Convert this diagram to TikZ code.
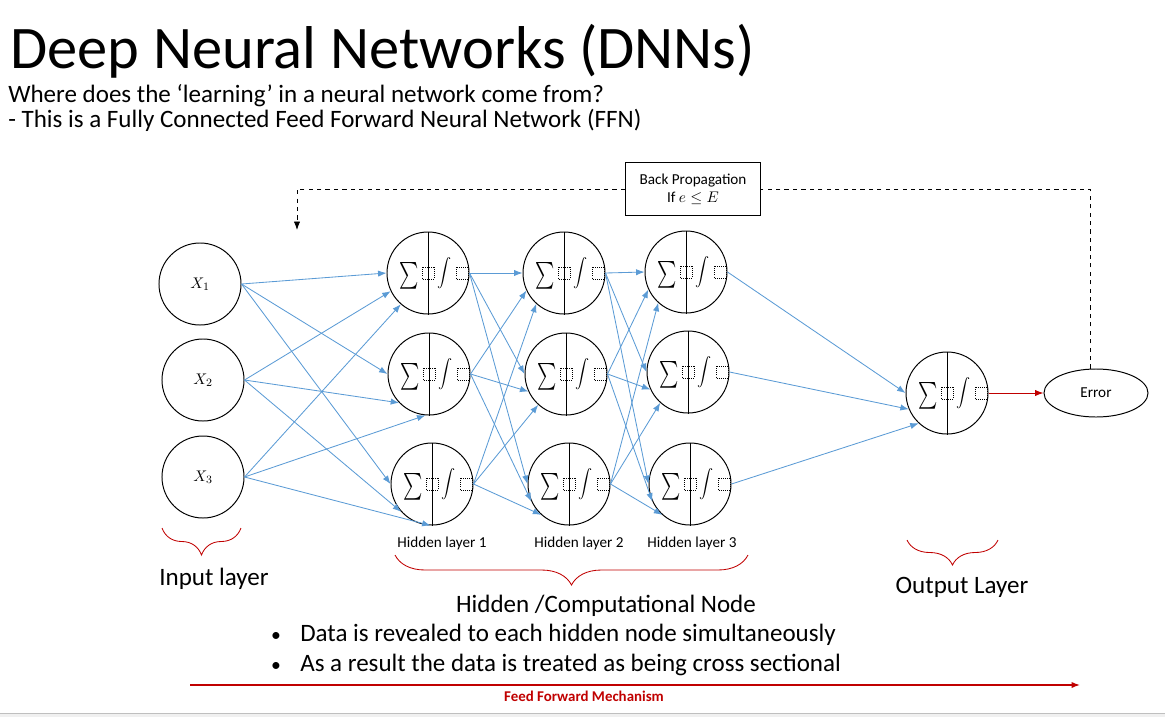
\documentclass[tikz,border=0pt]{standalone}
\usepackage{fontspec}
\setmainfont{Carlito}
\usetikzlibrary{calc,positioning,shapes.geometric,arrows.meta,decorations.pathreplacing}

\definecolor{linkblue}{RGB}{91,155,213}
\definecolor{darkred}{RGB}{192,0,0}

\tikzset{
  neuron/.style={circle,draw,line width=0.7pt,minimum size=2.05cm,inner sep=0pt,font=\fontsize{11}{13}\selectfont},
  sym/.style={inner sep=0pt,font=\fontsize{12}{14}\selectfont},
  holder/.style={densely dotted,line width=0.5pt},
  link/.style={->,color=linkblue,line width=0.6pt},
  small/.style={font=\fontsize{10.8}{13}\selectfont},
  big/.style={font=\fontsize{17.8}{21}\selectfont},
  redbrace/.style={decorate,decoration={brace,mirror,amplitude=#1},color=darkred,line width=0.6pt},
}

% hidden node: sum | integral
\newcommand{\hnode}[2]{%
  \node[neuron] (#1) at (#2) {};
  \draw[line width=0.7pt] (#1.north) -- (#1.south);
  \node[sym] at ($(#1)+(-19,3)$) {\scalebox{1.3}[1.9]{$\textstyle\sum$}};
  \node[sym] at ($(#1)+(17,0)$) {$\displaystyle\int$};
  \draw[holder] ($(#1)+(-6,-6)$) rectangle +(12,12);
  \draw[holder] ($(#1)+(28,-6)$) rectangle +(12,12);
}

\begin{document}
\begin{tikzpicture}[x=0.025cm,y=-0.025cm,>={Latex[length=6pt,width=4.5pt]}]
    \useasboundingbox (0,0) rectangle (1165,717);

    % titles
    \node[anchor=base west,inner sep=0pt,font=\fontsize{43}{46}\selectfont] (title) at (10,68) {Deep Neural Networks (DNNs)};
    \node[anchor=base west,inner sep=0pt,big] (ques) at (8,102) {Where does the ‘learning’ in a neural network come from?};
    \node[anchor=base west,inner sep=0pt,big] (ffn) at (8,127) {- This is a Fully Connected Feed Forward Neural Network (FFN)};

    % input layer
    \node[neuron] (x1) at (200,284) {$X_1$};
    \node[neuron] (x2) at (203,380) {$X_2$};
    \node[neuron] (x3) at (203,477) {$X_3$};

    % hidden layers
    \hnode{ha1}{428,273}
    \hnode{ha2}{429,374}
    \hnode{ha3}{432,484}
    \hnode{hb1}{564,273}
    \hnode{hb2}{566,374}
    \hnode{hb3}{569,484}
    \hnode{hc1}{686,272}
    \hnode{hc2}{688,372}
    \hnode{hc3}{690,484}

    % output and error
    \hnode{out}{947,393}
    \node[draw,ellipse,line width=0.7pt,minimum width=2.6cm,minimum height=1.2cm,small] (err) at (1096,393) {Error};
    \node[draw,line width=0.7pt,minimum width=3.375cm,minimum height=1.325cm,align=center,small] (bp) at (693,189) {Back Propagation\\If \(e \le E\)};

    % links
    \foreach \s/\t/\a in {1/1/180,1/2/180,1/3/180,2/1/206,2/2/224,2/3/222,3/1/229,3/2/265,3/3/268}
        \draw[link] (x\s.east) -- (ha\t.\a);
    \foreach \s/\a in {1/180,2/205,3/228}
        \foreach \t in {1,2,3} {
            \draw[link] (ha\s.east) -- (hb\t.\a);
            \draw[link] (hb\s.east) -- (hc\t.\a);
        }
    \foreach \s/\a in {1/180,2/203,3/227}
        \draw[link] (hc\s.east) -- (out.\a);
    \draw[->,color=darkred,line width=0.7pt] (out.east) -- (err.west);

    % back propagation loop
    \coordinate (bptip) at (297,230);
    \draw[dashed,line width=0.6pt] (err.104) |- (bp.east);
    \draw[dashed,->,line width=0.6pt] (bp.west) -| (bptip);

    % layer labels
    \node[small] (l1) at (442,543) {Hidden layer 1};
    \node[small] (l2) at (579,543) {Hidden layer 2};
    \node[small] (l3) at (692,543) {Hidden layer 3};

    \draw[redbrace=0.675cm] (162,528) -- (241,528);
    \draw[redbrace=0.75cm] (395,555) -- (748,555);
    \draw[redbrace=0.625cm] (907,540) -- (998,540);

    \node[anchor=base,big] (inl) at (214,585) {Input layer};
    \node[anchor=base,big] (outl) at (962,593) {Output Layer};
    \node[anchor=base,big] (hidl) at (606,612) {Hidden /Computational Node};

    \node[anchor=base,font=\fontsize{14}{16}\selectfont] (b1) at (276,641) {\textbullet};
    \node[anchor=base west,inner sep=0pt,big] (t1) at (300,641) {Data is revealed to each hidden node simultaneously};
    \node[anchor=base,font=\fontsize{14}{16}\selectfont] (b2) at (276,671) {\textbullet};
    \node[anchor=base west,inner sep=0pt,big] (t2) at (300,671) {As a result the data is treated as being cross sectional};

    % feed forward
    \coordinate (ffs) at (190,685);
    \coordinate (ffe) at (1080,685);
    \draw[->,color=darkred,line width=1pt] (ffs) -- (ffe);
    \node[color=darkred,font=\fontsize{10.6}{12}\selectfont\bfseries] (ffl) at (584,696) {Feed Forward Mechanism};

    \fill[black!6] (0,713) rectangle (1165,717);
    \draw[black!25] (0,713) -- (1165,713);
\end{tikzpicture}
\end{document}
